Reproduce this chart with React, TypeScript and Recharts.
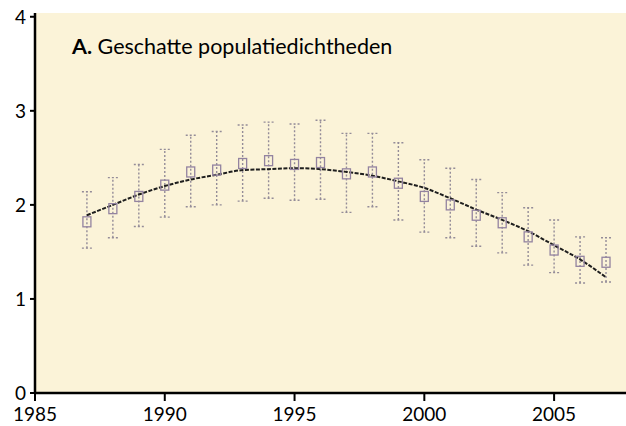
import React from 'react';
import {
  ComposedChart,
  XAxis,
  YAxis,
  CartesianGrid,
  Scatter,
  ErrorBar,
  Line
} from 'recharts';

const years = [1987, 1988, 1989, 1990, 1991, 1992, 1993, 1994, 1995, 1996, 1997, 1998, 1999, 2000, 2001, 2002, 2003, 2004, 2005, 2006, 2007];
const means = [1.82, 1.96, 2.09, 2.21, 2.35, 2.37, 2.44, 2.47, 2.43, 2.45, 2.33, 2.35, 2.23, 2.09, 2.0, 1.89, 1.81, 1.66, 1.52, 1.4, 1.39];
const upper = [2.14, 2.29, 2.43, 2.59, 2.74, 2.78, 2.85, 2.88, 2.86, 2.9, 2.76, 2.76, 2.66, 2.48, 2.39, 2.27, 2.13, 1.97, 1.84, 1.66, 1.65];
const lower = [1.54, 1.65, 1.77, 1.87, 1.98, 2.0, 2.04, 2.07, 2.05, 2.06, 1.92, 1.98, 1.84, 1.71, 1.65, 1.56, 1.49, 1.36, 1.28, 1.17, 1.18];
const trend = [1.89, 2.0, 2.11, 2.2, 2.27, 2.32, 2.37, 2.38, 2.39, 2.38, 2.35, 2.31, 2.25, 2.18, 2.07, 1.95, 1.84, 1.72, 1.57, 1.42, 1.23];

const xTicks = [1985, 1990, 1995, 2000, 2005];
const yTicks = [0, 1, 2, 3, 4];
const title = 'Geschatte populatiedichtheden';

const data = years.map((year, i) => ({
  year,
  mean: means[i],
  err: [means[i] - lower[i], upper[i] - means[i]],
  trend: trend[i]
}));

const font = 'Lato, "Open Sans", sans-serif';

// open vierkantje als meetpunt
const SquareMark = (props: any) => {
  const { cx, cy } = props;
  if (cx == null || cy == null) return null;
  return (
    <rect x={cx - 4} y={cy - 5} width={8} height={10} fill="none" stroke="#9383a0" strokeWidth={1.3} />
  );
};

const App: React.FC = () => {
  return (
    <div style={{ position: 'absolute', left: 0, top: 0, width: 626, height: 426, background: '#fff' }}>
      <ComposedChart
        width={626}
        height={426}
        data={data}
        margin={{ top: 13, right: 0, left: 0, bottom: 0 }}
      >
        <CartesianGrid horizontal={false} vertical={false} fill="#fbf3d8" />
        <XAxis
          dataKey="year"
          type="number"
          domain={[1985, 2007.77]}
          ticks={xTicks}
          allowDataOverflow
          height={33}
          tickSize={8}
          fontSize={19}
          fontFamily={font}
          axisLine={{ stroke: '#000', strokeWidth: 2.5 }}
          tickLine={{ stroke: '#000', strokeWidth: 2 }}
          tick={{ fill: '#000', fontSize: 19, dy: 5 }}
        />
        <YAxis
          type="number"
          domain={[0, 4.04]}
          ticks={yTicks}
          allowDataOverflow
          width={35}
          tickSize={5}
          fontSize={19}
          fontFamily={font}
          axisLine={{ stroke: '#000', strokeWidth: 2.5 }}
          tickLine={{ stroke: '#000', strokeWidth: 2 }}
          tick={{ fill: '#000', fontSize: 19, dx: -2 }}
        />
        <Scatter dataKey="mean" shape={<SquareMark />} isAnimationActive={false}>
          <ErrorBar
            dataKey="err"
            direction="y"
            width={5}
            stroke="#948c98"
            strokeWidth={1.4}
            strokeDasharray="2 2"
          />
        </Scatter>
        <Line
          type="monotone"
          dataKey="trend"
          stroke="#1e1e1e"
          strokeWidth={2}
          strokeDasharray="4 1.5"
          dot={false}
          isAnimationActive={false}
        />
      </ComposedChart>
      <div
        style={{
          position: 'absolute',
          left: 72,
          top: 33,
          fontFamily: font,
          fontSize: 21.5,
          color: '#000',
          whiteSpace: 'nowrap'
        }}
      >
        <b>A.</b> {title}
      </div>
    </div>
  );
};

export default App;
